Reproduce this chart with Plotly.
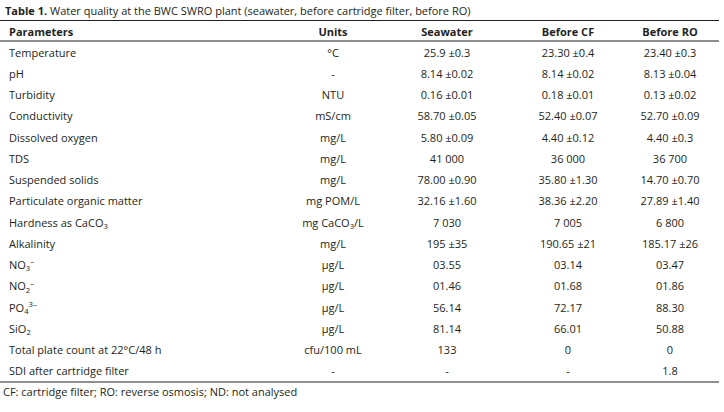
import plotly.graph_objects as go

W, H = 724, 412

title_bold = "Table 1."
title_rest = " Water quality at the BWC SWRO plant (seawater, before cartridge filter, before RO)"
footnote = "CF: cartridge filter; RO: reverse osmosis; ND: not analysed"

headers = ["Parameters", "Units", "Seawater", "Before CF", "Before RO"]

parameters = [
    "Temperature", "pH", "Turbidity", "Conductivity", "Dissolved oxygen", "TDS",
    "Suspended solids", "Particulate organic matter", "Hardness as CaCO<sub>3</sub>",
    "Alkalinity", "NO<sub>3</sub><sup>–</sup>", "NO<sub>2</sub><sup>–</sup>",
    "PO<sub>4</sub><sup>3–</sup>", "SiO<sub>2</sub>", "Total plate count at 22°C/48 h",
    "SDI after cartridge filter",
]
units = [
    "°C", "-", "NTU", "mS/cm", "mg/L", "mg/L", "mg/L", "mg POM/L",
    "mg CaCO<sub>3</sub>/L", "mg/L", "µg/L", "µg/L", "µg/L", "µg/L", "cfu/100 mL", "-",
]
seawater = [
    "25.9 ±0.3", "8.14 ±0.02", "0.16 ±0.01", "58.70 ±0.05", "5.80 ±0.09", "41 000",
    "78.00 ±0.90", "32.16 ±1.60", "7 030", "195 ±35", "03.55", "01.46", "56.14",
    "81.14", "133", "-",
]
before_cf = [
    "23.30 ±0.4", "8.14 ±0.02", "0.18 ±0.01", "52.40 ±0.07", "4.40 ±0.12", "36 000",
    "35.80 ±1.30", "38.36 ±2.20", "7 005", "190.65 ±21", "03.14", "01.68", "72.17",
    "66.01", "0", "-",
]
before_ro = [
    "23.40 ±0.3", "8.13 ±0.04", "0.13 ±0.02", "52.70 ±0.09", "4.40 ±0.3", "36 700",
    "14.70 ±0.70", "27.89 ±1.40", "6 800", "185.17 ±26", "03.47", "01.86", "88.30",
    "50.88", "0", "1.8",
]

FONT = "'Open Sans', 'Noto Sans', sans-serif"
TXT = "#231f20"
FS = 11

# geometry (pixels) -> row-index axis
first_row_px, row_px = 54.0, 21.23
def row_of(px):
    return (px - first_row_px) / row_px

columns = [parameters, units, seawater, before_cf, before_ro]
col_x = [9, 333, 447, 568, 670]
col_pos = ["middle right", "middle center", "middle center", "middle center", "middle center"]

fig = go.Figure()
rows = list(range(len(parameters)))
for vals, head, x, pos in zip(columns, headers, col_x, col_pos):
    fig.add_trace(go.Scatter(
        x=[x] * len(vals), y=rows, text=vals, mode="text", textposition=pos,
        textfont=dict(family=FONT, size=FS, color=TXT), hoverinfo="skip", showlegend=False,
    ))
    fig.add_trace(go.Scatter(
        x=[x], y=[-1], text=[f"<b>{head}</b>"], mode="text", textposition=pos,
        textfont=dict(family=FONT, size=FS, color=TXT), hoverinfo="skip", showlegend=False,
    ))

for ypx in (20.5, 41.0, 382.0):
    fig.add_shape(type="line", xref="x", yref="y", x0=0, x1=719,
                  y0=row_of(ypx), y1=row_of(ypx), line=dict(color=TXT, width=1.2))

fig.add_annotation(xref="x", yref="y", x=3, y=row_of(10.5), xanchor="left", yanchor="middle",
                   text=f"<b>{title_bold}</b>{title_rest}", showarrow=False,
                   font=dict(family=FONT, size=FS, color=TXT))
fig.add_annotation(xref="x", yref="y", x=1, y=row_of(391.5), xanchor="left", yanchor="middle",
                   text=footnote, showarrow=False,
                   font=dict(family=FONT, size=FS, color=TXT))

fig.update_xaxes(range=[0, W], visible=False, fixedrange=True)
fig.update_yaxes(range=[row_of(H), row_of(0)], visible=False, fixedrange=True)
fig.update_layout(width=W, height=H, margin=dict(l=0, r=0, t=0, b=0),
                  paper_bgcolor="white", plot_bgcolor="white")
fig.write_html("out.html", config={"displayModeBar": False},
               post_script="document.body.style.margin='0';document.body.style.overflow='hidden';")
